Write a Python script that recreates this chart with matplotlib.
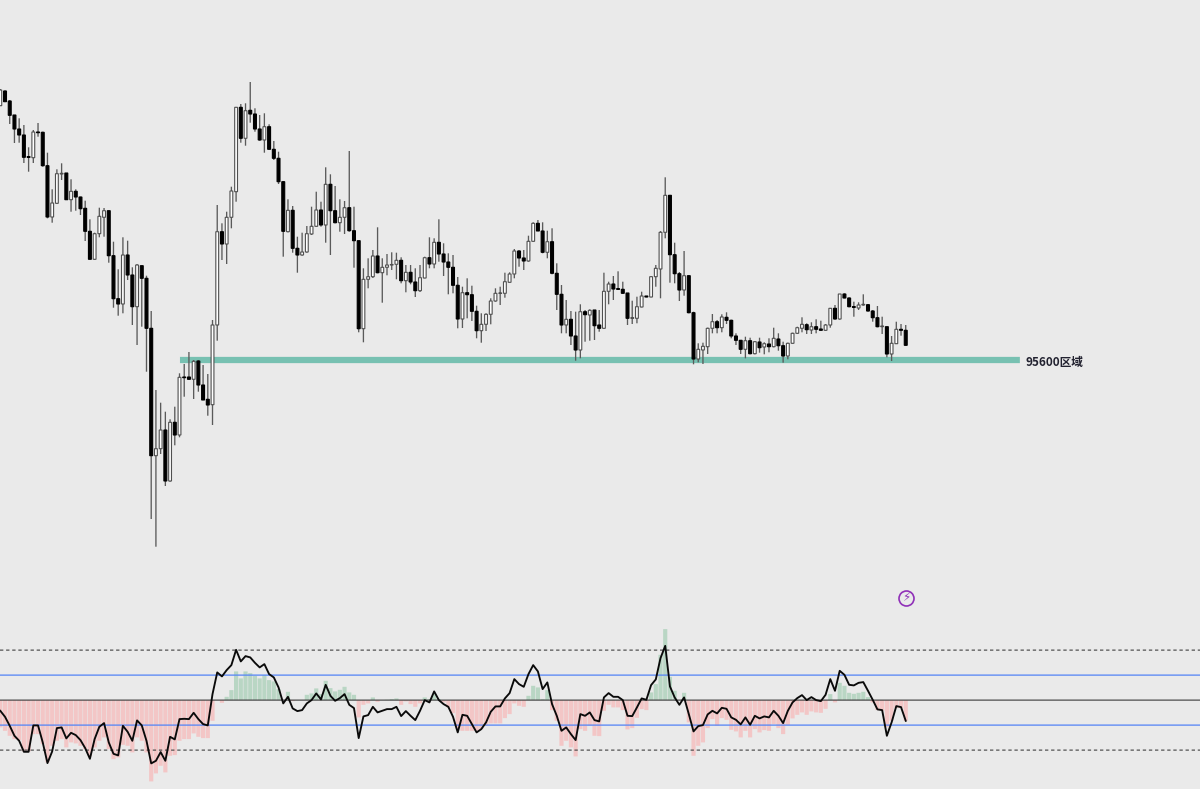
import numpy as np
import matplotlib
matplotlib.use('Agg')
import matplotlib.pyplot as plt


# candle data, oldest first
opens = [98143,98290,98190,98050,97910,97850,97633,97623,97880,97877,
         97543,97030,97167,97460,97470,97203,97287,97230,97117,96887,
         96607,96863,97027,97093,96643,96213,96160,96650,96450,96133,
         96543,96417,95917,94643,94713,94900,94390,94977,94850,95430,
         95430,95407,95590,95350,95207,95153,95950,96883,96760,97027,
         97283,98127,97817,98097,98060,97910,97800,97933,97707,97617,
         97383,96883,97097,96717,96650,96680,96860,96937,97100,96950,
         97357,97093,96973,97027,97123,96893,96793,95913,96407,96433,
         96640,96473,96527,96550,96557,96597,96393,96477,96380,96293,
         96420,96623,96560,96777,96660,96580,96527,96347,96010,96273,
         96253,96087,95893,95957,96057,96190,96267,96267,96377,96460,
         96690,96620,96590,96787,96967,96890,96677,96783,96467,96257,
         95950,96007,95840,95700,96083,96050,96100,95950,95917,96287,
         96360,96313,96307,96270,96017,96017,96130,96240,96230,96433,
         96510,96877,97247,96653,96463,96300,96443,96073,95610,95700,
         95733,95917,95983,95923,96027,95997,95840,95797,95707,95793,
         95663,95780,95730,95760,95733,95810,95743,95640,95767,95867,
         95917,95953,95900,95933,95910,95897,95950,96117,96010,96260,
         96220,96133,96120,96150,96153,96090,96023,95933,95933,95660,
         95763,95907,95897]
highs = [98310,98297,98200,98050,98017,97950,97727,97900,97970,97883,
         97673,97307,97507,97567,97470,97407,97307,97233,97193,97007,
         96873,97123,97120,97093,96783,96507,96827,96793,96527,96560,
         96543,96443,96090,95300,95173,95083,95007,95133,95467,95560,
         95680,95600,95600,95550,95460,96000,97150,96967,97083,97333,
         98130,98160,98167,98380,98117,98050,98067,97957,97790,97683,
         97390,97207,97140,96833,96873,96940,97133,97283,97183,97527,
         97457,97340,97207,97190,97690,97133,96793,96517,96617,96700,
         96927,96617,96660,96677,96673,96627,96550,96550,96517,96550,
         96633,96827,96817,97007,96767,96667,96650,96430,96333,96417,
         96343,96143,96067,96067,96217,96317,96333,96473,96477,96710,
         96700,96700,96843,96977,97000,96977,96893,96917,96567,96350,
         96200,96090,96083,96157,96100,96107,96100,96100,96473,96383,
         96440,96487,96383,96270,96193,96233,96283,96240,96440,96550,
         96890,97427,97247,96773,96480,96690,96450,96083,95767,95773,
         95923,96060,96000,96057,96077,96003,95867,95800,95833,95823,
         95790,95823,95777,95817,95923,95867,95783,95773,95873,95933,
         96027,95967,95977,96007,95993,95960,96120,96150,96260,96267,
         96227,96183,96177,96257,96160,96100,96140,96033,95933,95840,
         95983,95960,95950]
lows = [98140,98183,97960,97770,97773,97570,97483,97570,97833,97533,
        97017,96973,97160,97400,97200,97083,97093,97050,96790,96607,
        96600,96827,96833,96573,96123,96043,96067,96400,95950,95750,
        95933,95483,94010,93733,94660,94340,94383,94747,94827,95233,
        95400,95210,95283,95200,95043,94950,95793,96600,96560,96917,
        97183,97773,97743,97973,97883,97793,97673,97700,97600,97360,
        96633,96877,96673,96473,96643,96673,96850,96933,96933,96773,
        96650,96967,96883,96860,96883,96523,95877,95777,96317,96420,
        96467,96173,96447,96500,96407,96367,96277,96357,96230,96280,
        96417,96517,96517,96583,96440,96257,96267,95917,95920,96017,
        95990,95817,95773,95890,95957,96183,96150,96223,96373,96417,
        96533,96500,96583,96783,96890,96667,96617,96457,96100,95867,
        95867,95750,95593,95617,95783,95793,95800,95883,95910,96157,
        96200,96300,96260,95950,95960,95967,96127,96227,96227,96333,
        96217,96817,96373,96367,96190,96243,96067,95557,95577,95560,
        95660,95867,95867,95877,95960,95817,95750,95660,95617,95657,
        95657,95673,95657,95677,95727,95693,95573,95607,95763,95860,
        95877,95860,95860,95867,95893,95890,95923,96003,96003,96217,
        96127,96033,96100,96143,96083,95983,95927,95860,95627,95590,
        95760,95843,95743]
closes = [98300,98183,98047,97910,97850,97627,97627,97880,97873,97543,
          97030,97170,97463,97467,97203,97287,97230,97113,96887,96607,
          96863,97037,97093,96643,96213,96160,96650,96450,96133,96550,
          96417,95917,94643,94713,94900,94390,94977,94850,95427,95423,
          95407,95587,95350,95200,95150,95950,96883,96760,97027,97290,
          98127,97817,98093,98060,97910,97800,97933,97707,97617,97383,
          96887,97097,96717,96650,96680,96863,96937,97100,96950,97357,
          97093,96973,97027,97123,96893,96793,95913,96407,96433,96640,
          96473,96527,96550,96555,96597,96393,96477,96380,96293,96423,
          96623,96560,96777,96660,96580,96527,96347,96010,96273,96253,
          96087,95893,95957,96057,96190,96267,96270,96383,96460,96690,
          96620,96590,96787,96967,96890,96677,96783,96467,96257,95950,
          96007,95840,95700,96083,96053,96097,95943,95917,96287,96360,
          96310,96307,96267,96017,96023,96133,96240,96230,96433,96517,
          96877,97247,96653,96463,96300,96443,96073,95610,95707,95737,
          95917,95983,95923,96030,95997,95840,95797,95707,95793,95663,
          95783,95723,95763,95733,95817,95743,95640,95767,95867,95923,
          95957,95903,95933,95907,95897,95950,96117,96010,96260,96220,
          96133,96127,96150,96157,96090,96023,95933,95940,95660,95767,
          95907,95897,95747]

# oscillator line and histogram
osc_line = [-10.7,-16.7,-25.7,-35.7,-40.7,-51.7,-51.7,-25.3,-25.3,-42.3,
            -63,-51.3,-28,-27.3,-38.3,-32.7,-35,-40,-48,-58.7,
            -39,-26.7,-23,-42.3,-53.7,-55.3,-25.7,-31.7,-40.7,-20.3,
            -25.3,-40.7,-63.3,-60.7,-52,-60.7,-36.7,-39.3,-19,-18.7,
            -19,-12.7,-19,-24,-25.3,6,27.7,23.7,30,35,
            50.3,38.7,44,42.7,37.3,32.7,36,26,22.7,12.7,
            -3.3,3.3,-8.3,-11,-10,-3.3,0,6.7,0.7,15.3,
            4.3,-0.7,2,6,-4.7,-8,-38,-16.3,-15,-6.7,
            -12.3,-10.7,-9,-9,-6.7,-16,-11,-15.7,-20,-10.7,
            0,-2.3,8.7,0,-4,-6.7,-16.7,-32.3,-14.7,-15.7,
            -24,-32.3,-29,-22.3,-11.7,-6.3,-6.3,1.7,7,21,
            16,13.3,26,35,28.7,11,17.7,-4,-15.7,-30.7,
            -27.3,-34,-40,-14,-15.7,-12.3,-20,-21.3,2.7,7,
            3.3,3.3,0,-15.7,-16,-7.3,1.7,0.3,15,20.7,
            42,54.3,13.7,2.7,-4.7,2.7,-14,-31.3,-26,-25,
            -14.3,-10.7,-13.3,-7.7,-8.7,-17.3,-19.7,-24.3,-17.3,-24.7,
            -15.7,-18.3,-16.3,-17.3,-10.7,-15.7,-23,-10.7,-2.3,2,
            5,0,3,0,-1,5.3,21,9.3,29.3,25.3,
            15.3,14.7,17.3,18,9.3,0.3,-9.3,-10,-35.7,-22.3,
            -6,-7,-20.7]
osc_hist = [-27.3,-30.7,-35.7,-39,-40,-51.3,-51.3,-34,-34,-44,
            -62.3,-45.7,-40.7,-39,-47.3,-42.3,-43.3,-45.7,-49,-55.7,
            -47.3,-40.7,-37.3,-49,-59,-57.3,-44.7,-45.7,-52.3,-37.3,
            -40.7,-52.3,-81.3,-73.3,-65.7,-72.3,-55.7,-55,-40.7,-39,
            -39,-33.3,-36.7,-38,-38,-20.7,0,-2.7,3.3,10,
            28.7,21.7,28.7,27,24.3,21.7,25,20,18.7,11,
            0,8.3,-1,0,0,5.3,6.7,11.7,6,19.3,
            12,8.7,10.3,13.3,7.7,5.3,-17.3,-4.7,-3.3,2.7,
            -1.7,0,0.3,1,1.7,-4.7,-1.3,-4,-6.7,-3.3,
            2.7,1,6,1,-2.3,-7.3,-13,-28,-30.7,-30.7,
            -30.7,-30.7,-29,-25.7,-23.3,-23.3,-23.3,-18,-14,-3.3,
            -5.7,-6.7,4.3,14.3,12.7,1,10,-10,-20.7,-45.7,
            -40.7,-47.3,-56.3,-29,-30.7,-25.7,-35.7,-36,-10.7,-4.7,
            -7.3,-7.3,-10,-29.3,-28,-17.7,-9,-10,7.7,16,
            45.3,71,23.3,9.3,0,7.3,-22.3,-55.7,-45.7,-42.3,
            -28,-19,-25.7,-18,-19.7,-29.7,-31.3,-37.3,-30.7,-37.3,
            -29,-32.3,-30,-30.7,-24,-28,-34,-24.7,-18.3,-14.7,
            -12.3,-14.7,-11.3,-12.3,-12.7,-8.7,6,-2.3,17.3,14.3,
            7.3,6.3,7.3,8.3,3,-2.3,-10,-10.7,-26.7,-20.7,
            -8,-8,-20.7]

LEVEL = 95600
LEVEL_LABEL = '95600区域'
OSC_INNER = 25
OSC_OUTER = 50

BG = '#eaeaea'

plt.rcParams['font.family'] = ['Noto Sans CJK SC', 'DejaVu Sans']
# no pixel snapping, bars would come out uneven otherwise
plt.rcParams['path.snap'] = False

fig = plt.figure(figsize=(12, 7.89), dpi=100, facecolor=BG)

# price panel takes the whole figure, x maps 4.716 px per bar
ax = fig.add_axes([0, 0, 1, 1], facecolor='none')
ax.set_xlim(-0.064, 254.4)
ax.set_ylim(91310, 99200)
ax.axis('off')

o = np.array(opens)
h = np.array(highs)
l = np.array(lows)
c = np.array(closes)
x = np.arange(len(o))
up = c >= o

# level band sits under the candles
ax.plot([38.1, 216.2], [LEVEL, LEVEL], color='#78c1b2', lw=4.5, solid_capstyle='butt', zorder=1)
ax.text(217.4, LEVEL - 22, LEVEL_LABEL, fontsize=8.4, color='#222230', va='center', ha='left', weight='bold')

# wicks first, then bodies
ax.vlines(x, l, h, color='#5a5a5a', lw=0.95, zorder=2)
ax.bar(x[up], (c - o)[up], bottom=o[up], width=0.6, color='white', edgecolor='#505050', linewidth=0.8, zorder=3)
ax.bar(x[~up], (c - o)[~up], bottom=o[~up], width=0.62, color='black', edgecolor='black', linewidth=0.8, zorder=3)

# little lightning badge
ax.plot([192], [93220], 'o', ms=10.8, mfc='none', mec='#9030b8', mew=1.2, zorder=4)
ax.text(192, 93220, '⚡', fontsize=8.5, color='#9030b8', ha='center', va='center', family='DejaVu Sans', weight='bold', zorder=4)

# oscillator panel along the bottom
ax2 = fig.add_axes([0, 0, 1, 0.22], facecolor='none')
ax2.set_xlim(-0.064, 254.4)
ax2.set_ylim(-88.9, 84.7)
ax2.axis('off')

hist = np.array(osc_hist)
ax2.bar(x[hist < 0], hist[hist < 0], width=0.88, color='#f3c6c6', zorder=1)
ax2.bar(x[hist >= 0], hist[hist >= 0], width=0.88, color='#b9d6c4', zorder=1)

ax2.axhline(0, color='#444444', lw=0.85, zorder=2)
for lev in [OSC_INNER, -OSC_INNER]:
    ax2.axhline(lev, color='#5a88f5', lw=0.95, zorder=2)
for lev in [OSC_OUTER, -OSC_OUTER]:
    ax2.axhline(lev, color='#404040', lw=0.8, dashes=(3, 2.5), zorder=2)

ax2.plot(x, osc_line, color='#0a0a0a', lw=1.35, zorder=3)

fig.savefig('out.png', dpi=100, facecolor=BG)
